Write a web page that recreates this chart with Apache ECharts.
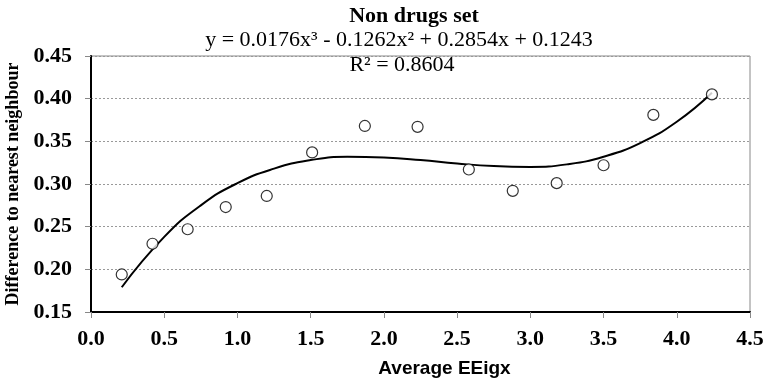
<!DOCTYPE html>
<html>
<head>
<meta charset="utf-8">
<script src="https://cdn.jsdelivr.net/npm/echarts@6/dist/echarts.min.js"></script>
<style>
  html, body { margin: 0; padding: 0; background: #fff; }
  #chart { width: 769px; height: 383px; }
</style>
</head>
<body>
<div id="chart"></div>
<script>
// observed points (Average EEigx, difference to nearest neighbour)
const pointX = [0.21, 0.42, 0.66, 0.92, 1.20, 1.51, 1.87, 2.23, 2.58, 2.88, 3.18, 3.50, 3.84, 4.24];
const pointY = [0.194, 0.230, 0.247, 0.273, 0.286, 0.337, 0.368, 0.367, 0.317, 0.292, 0.301, 0.322, 0.381, 0.405];

// trend line
const trendX = [0.21, 0.5, 0.75, 1.0, 1.25, 1.5, 1.75, 2.0, 2.25, 2.5, 2.75, 3.0, 3.25, 3.5, 3.75, 4.0, 4.24];
const trendY = [0.179, 0.238, 0.275, 0.301, 0.318, 0.328, 0.332, 0.331, 0.328, 0.324, 0.321, 0.320, 0.323, 0.332, 0.348, 0.373, 0.407];

const titleText = "Non drugs set";
const equationText = "y = 0.0176x³ - 0.1262x² + 0.2854x + 0.1243";
const r2Text = "R² = 0.8604";

const serif = "'Liberation Serif', 'Times New Roman', serif";
const sans = "'Liberation Sans', Arial, sans-serif";

const chart = echarts.init(document.getElementById("chart"));
chart.setOption({
  animation: false,
  title: [
    {
      text: titleText,
      left: 409, top: 0, textAlign: "center",
      textStyle: { fontFamily: serif, fontWeight: "bold", fontSize: 22, color: "#000" }
    },
    {
      text: equationText,
      left: 394, top: 24, textAlign: "center",
      textStyle: { fontFamily: serif, fontWeight: "normal", fontSize: 22, color: "#000" }
    },
    {
      text: r2Text,
      left: 397, top: 49, textAlign: "center",
      textStyle: { fontFamily: serif, fontWeight: "normal", fontSize: 22, color: "#000" }
    }
  ],
  grid: {
    left: 91, right: 19, top: 56, bottom: 71,
    outerBoundsMode: "none",
    show: true, borderColor: "#888", borderWidth: 1, backgroundColor: "#fff"
  },
  xAxis: {
    type: "value",
    min: 0, max: 4.5, interval: 0.5,
    name: "Average EEigx",
    nameLocation: "middle",
    nameGap: 47,
    nameTextStyle: {
      fontFamily: sans, fontWeight: "bold", fontSize: 19, color: "#000",
      padding: [0, 0, 0, 48]
    },
    axisLine: { show: true, lineStyle: { color: "#000", width: 2 } },
    axisTick: { show: true, length: 6, lineStyle: { color: "#888" } },
    axisLabel: {
      margin: 16,
      fontFamily: serif, fontWeight: "bold", fontSize: 22, color: "#000",
      formatter: v => v.toFixed(1)
    },
    splitLine: { show: false }
  },
  yAxis: {
    type: "value",
    min: 0.15, max: 0.45, interval: 0.05,
    name: "Difference to nearest neighbour",
    nameLocation: "middle",
    nameGap: 62,
    nameTextStyle: { fontFamily: serif, fontWeight: "bold", fontSize: 18, color: "#000" },
    axisLine: { show: true, lineStyle: { color: "#000", width: 2 } },
    axisTick: { show: true, length: 6, lineStyle: { color: "#888" } },
    axisLabel: {
      margin: 19,
      fontFamily: serif, fontWeight: "bold", fontSize: 22, color: "#000",
      formatter: v => v.toFixed(2)
    },
    splitLine: { show: true, lineStyle: { color: "#999", type: [2, 2], width: 1 } }
  },
  series: [
    {
      type: "line",
      data: trendX.map((x, i) => [x, trendY[i]]),
      smooth: true,
      showSymbol: false,
      lineStyle: { color: "#000", width: 2 },
      z: 2
    },
    {
      type: "scatter",
      data: pointX.map((x, i) => [x, pointY[i]]),
      symbol: "circle",
      symbolSize: 11,
      itemStyle: { color: "#fff", borderColor: "#000", borderWidth: 1.2 },
      z: 3
    }
  ]
});
</script>
</body>
</html>
